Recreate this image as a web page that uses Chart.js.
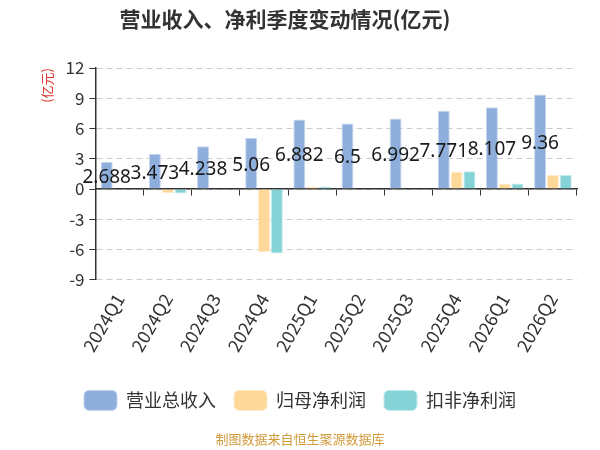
<!DOCTYPE html>
<html>
<head>
<meta charset="utf-8">
<script src="https://cdn.jsdelivr.net/npm/chart.js@4.4.1/dist/chart.umd.min.js"></script>
<style>
  html, body { margin: 0; padding: 0; background: #fff; }
  #wrap { position: relative; width: 600px; height: 450px; }
  #title { position: absolute; left: 0; top: 3px; width: 570px; text-align: center;
    font-family: "Noto Sans CJK SC", sans-serif; font-weight: bold; font-size: 21px; color: #333; }
  canvas { position: absolute; left: 0; top: 0; }
</style>
</head>
<body>
<div id="wrap">
  <canvas id="c" width="600" height="450"></canvas>
  <div id="title">营业收入、净利季度变动情况(亿元)</div>
</div>
<script>
const categories = ['2024Q1','2024Q2','2024Q3','2024Q4','2025Q1','2025Q2','2025Q3','2025Q4','2026Q1','2026Q2'];
const revenue = [2.688, 3.473, 4.238, 5.06, 6.882, 6.5, 6.992, 7.771, 8.107, 9.36];
const netProfit = [0.06, -0.4, 0.06, -6.25, 0.25, 0.05, 0.06, 1.7, 0.55, 1.38];
const deductedNetProfit = [0.05, -0.45, 0.05, -6.4, 0.25, 0.04, 0.05, 1.75, 0.55, 1.38];
const seriesNames = ['营业总收入', '归母净利润', '扣非净利润'];
const yTicks = [-9, -6, -3, 0, 3, 6, 9, 12];

const FONT = '"Noto Sans CJK SC", "Noto Sans", sans-serif';

const labelPlugin = {
  id: 'barLabels',
  afterDatasetsDraw(chart) {
    const ctx = chart.ctx;
    const meta = chart.getDatasetMeta(0);
    ctx.save();
    ctx.font = '19px "Noto Sans", ' + FONT;
    ctx.fillStyle = '#1a1a1a';
    ctx.textAlign = 'center';
    ctx.textBaseline = 'middle';
    meta.data.forEach((bar, i) => {
      const v = revenue[i];
      const y = (bar.y + bar.base) / 2 + 2;
      ctx.fillText(String(v), bar.x, y);
    });
    ctx.restore();
  }
};

new Chart(document.getElementById('c'), {
  type: 'bar',
  data: {
    labels: categories,
    datasets: [
      { label: seriesNames[0], data: revenue, backgroundColor: '#8eaedb', borderColor: '#c3d5ee', borderWidth: 1 },
      { label: seriesNames[1], data: netProfit, backgroundColor: '#fdd899', borderColor: '#feeacb', borderWidth: 1 },
      { label: seriesNames[2], data: deductedNetProfit, backgroundColor: '#85d3d6', borderColor: '#c2e9eb', borderWidth: 1 }
    ]
  },
  options: {
    responsive: false,
    animation: false,
    devicePixelRatio: 1,
    layout: { padding: { top: 68, right: 23, left: 23, bottom: 0 } },
    datasets: { bar: { categoryPercentage: 0.8, barPercentage: 0.93 } },
    scales: {
      x: {
        position: 'bottom',
        grid: { display: false },
        border: { display: false },
        ticks: {
          color: '#333', font: { size: 18, family: FONT },
          minRotation: 60, maxRotation: 60, padding: 2
        },
        afterFit(scale) { scale.height += 15; }
      },
      xZero: {
        type: 'category',
        labels: categories,
        position: { y: 0 },
        offset: true,
        grid: { drawOnChartArea: false, offset: true, drawTicks: true, tickLength: 6, color: '#333' },
        border: { display: true, color: '#333', width: 1.5 },
        ticks: { display: false }
      },
      y: {
        min: -9, max: 12,
        afterBuildTicks(scale) { scale.ticks = yTicks.map(v => ({ value: v })); },
        grid: { color: '#cccccc', tickColor: '#333', tickLength: 6, lineWidth: 1 },
        border: { display: true, color: '#333', width: 1.5, dash: [6, 4] },
        ticks: { color: '#333', font: { size: 17, family: FONT }, padding: 5 },
        title: { display: true, text: '(亿元)', align: 'end', color: '#e0322b',
                 font: { size: 13, family: FONT }, padding: { top: 16, bottom: 6 } }
      }
    },
    plugins: {
      legend: {
        position: 'bottom',
        labels: {
          color: '#333', font: { size: 18, family: FONT },
          boxWidth: 33, boxHeight: 20, useBorderRadius: true, borderRadius: 5, padding: 18
        }
      },
      subtitle: {
        display: true, position: 'bottom', text: '制图数据来自恒生聚源数据库',
        color: '#d09a3a', font: { size: 13, family: FONT }, padding: { top: 11, bottom: 3 }
      },
      tooltip: { enabled: false },
      title: { display: false }
    }
  },
  plugins: [labelPlugin]
});
</script>
</body>
</html>
